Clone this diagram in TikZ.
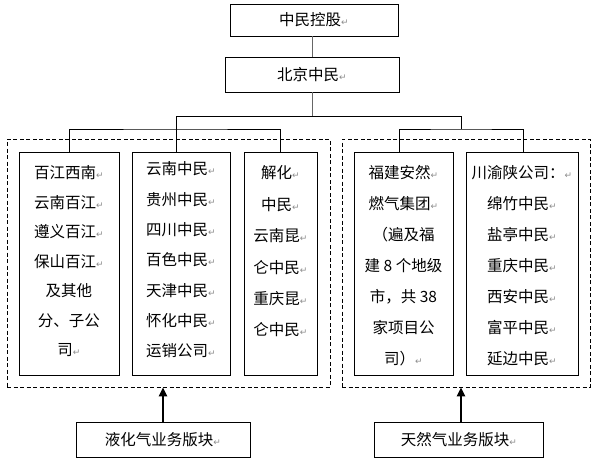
\documentclass[tikz,border=0pt]{standalone}
\usepackage{fontspec}
\usepackage{tikz}
\usetikzlibrary{positioning}
\usetikzlibrary{arrows.meta}
\newfontfamily\cjk{Noto Sans CJK SC}
\newfontfamily\symb{DejaVu Sans}
\newcommand{\pmk}{{\color{black!45}\symb\fontsize{9}{9}\selectfont ↵}}

\begin{document}
\begin{tikzpicture}[x=1pt,y=-1pt,
		unit/.style={draw, line width=0.8pt, inner sep=0pt, font=\cjk\fontsize{15.5}{18}\selectfont},
		lines/.style={inner sep=0pt, align=center, font=\cjk\fontsize{15.5}{#1}\selectfont},
		lines/.default=30,
		grp/.style={draw, dash pattern=on 4pt off 2.5pt, line width=0.8pt, inner sep=0pt},
		link/.style={line width=0.8pt},
		up/.style={line width=2.6pt, -{Triangle[length=9pt,width=8pt]}}
	]
	\useasboundingbox (0,0) rectangle (600,464);
	% top of the tree
	\node[unit, minimum width=168pt, minimum height=32pt] (hold) at (314,20) {中民控股\pmk};
	\node[unit, minimum width=174pt, minimum height=35pt] (bj) at (312,74.5) {北京中民\pmk};
	% the two groups
	\node[grp, minimum width=323pt, minimum height=248pt] (gL) at (168.5,263) {};
	\node[grp, minimum width=248pt, minimum height=248pt] (gR) at (466,263) {};
	\node[unit, minimum width=100pt, minimum height=223pt] (b1) at (69,263.5) {};
	\node[unit, minimum width=98pt, minimum height=223pt] (b2) at (181,263.5) {};
	\node[unit, minimum width=73pt, minimum height=223pt] (b3) at (280.5,263.5) {};
	\node[unit, minimum width=99pt, minimum height=223pt] (b4) at (403.5,263.5) {};
	\node[unit, minimum width=112pt, minimum height=223pt] (b5) at (522,263.5) {};
	\node[lines=29.5, below=14pt of b1.north] (t1)
		{百江西南\pmk\\云南百江\pmk\\遵义百江\pmk\\保山百江\pmk\\及其他\\分、子公\\司\pmk};
	\node[lines=30.3, below=10pt of b2.north] (t2)
		{云南中民\pmk\\贵州中民\pmk\\四川中民\pmk\\百色中民\pmk\\天津中民\pmk\\怀化中民\pmk\\运销公司\pmk};
	\node[lines=31.4, below=14pt of b3.north] (t3)
		{解化\pmk\\中民\pmk\\云南昆\pmk\\仑中民\pmk\\重庆昆\pmk\\仑中民\pmk};
	\node[lines=31, below=14pt of b4.north] (t4)
		{福建安然\pmk\\燃气集团\pmk\\（遍及福\\建 8 个地级\\市，共 38\\家项目公\\司）\pmk};
	\node[lines=31, below=14pt of b5.north] (t5)
		{川渝陕公司：\pmk\\绵竹中民\pmk\\盐亭中民\pmk\\重庆中民\pmk\\西安中民\pmk\\富平中民\pmk\\延边中民\pmk};
	% business blocks
	\node[unit, minimum width=174pt, minimum height=35pt] (lpg) at (163,439.5) {液化气业务版块\pmk};
	\node[unit, minimum width=169pt, minimum height=35pt] (ngas) at (459,439.5) {天然气业务版块\pmk};
	% connectors
	\coordinate (hubL) at (176,116);
	\coordinate (hubR) at (461,116);
	\coordinate (forkL) at (176,129);
	\coordinate (forkR) at (461,129);
	\draw[link, black!60] (bj.north |- hold.south) -- (bj.north);
	\draw[link, black!60] (bj.south) -- (bj.south |- hubL);
	\draw[link] (hubL) -- (hubR);
	\draw[link] (hubL) -- (hubL |- b2.north);
	\draw[link] (b1.north) |- (forkL) -| (b3.north);
	\draw[link] (hubR) -- (forkR);
	\draw[link] ([xshift=-4.5pt]b4.north) |- (forkR) -| ([xshift=1pt]b5.north);
	\draw[up] (lpg.north) -- (lpg.north |- gL.south);
	\draw[up] ([xshift=2pt]ngas.north) -- ([xshift=2pt]ngas.north |- gR.south);
\end{tikzpicture}
\end{document}
